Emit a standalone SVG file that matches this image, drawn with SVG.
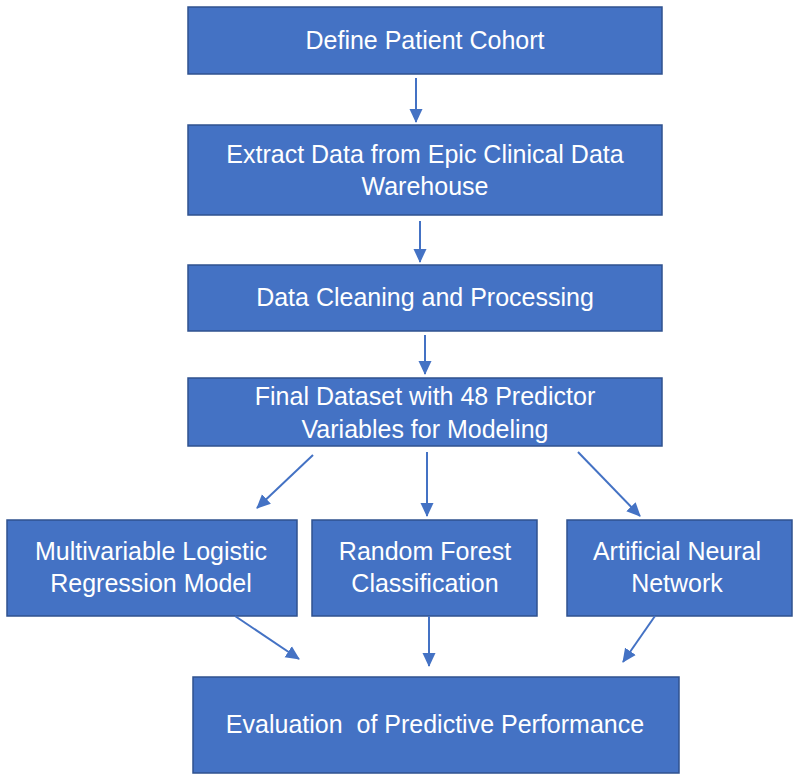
<svg xmlns="http://www.w3.org/2000/svg" width="800" height="780" viewBox="0 0 800 780">
<defs>
<marker id="ah" markerWidth="14" markerHeight="14" refX="13" refY="7" orient="auto" markerUnits="userSpaceOnUse" viewBox="0 0 14 14">
<path d="M0,0.5 L14,7 L0,13.5 Z" fill="#4472C4"/>
</marker>
<style>
.box{fill:#4472C4;stroke:#2F528F;stroke-width:1.5}
.t{fill:#ffffff;font-family:"Liberation Sans",Arial,sans-serif;font-size:25px;text-anchor:middle}
.c{stroke:#4472C4;stroke-width:2;fill:none;marker-end:url(#ah)}
</style>
</defs>
<rect width="800" height="780" fill="#ffffff"/>
<g id="n1"><rect class="box" x="188" y="7" width="474" height="67"/><text class="t" x="425" y="49">Define Patient Cohort</text></g>
<g id="n2"><rect class="box" x="188" y="125" width="474" height="90"/><text class="t" x="425" y="163">Extract Data from Epic Clinical Data</text><text class="t" x="425" y="195">Warehouse</text></g>
<g id="n3"><rect class="box" x="188" y="265" width="474" height="66"/><text class="t" x="425" y="306">Data Cleaning and Processing</text></g>
<g id="n4"><rect class="box" x="188" y="378" width="474" height="68"/><text class="t" x="425" y="405">Final Dataset with 48 Predictor</text><text class="t" x="425" y="438">Variables for Modeling</text></g>
<g id="n5"><rect class="box" x="7" y="520" width="290" height="96"/><text class="t" x="151" y="560">Multivariable Logistic</text><text class="t" x="151" y="592">Regression Model</text></g>
<g id="n6"><rect class="box" x="312" y="520" width="225" height="96"/><text class="t" x="425" y="560">Random Forest</text><text class="t" x="425" y="592">Classification</text></g>
<g id="n7"><rect class="box" x="567" y="520" width="225" height="96"/><text class="t" x="677" y="560">Artificial Neural</text><text class="t" x="677" y="592">Network</text></g>
<g id="n8"><rect class="box" x="193" y="677" width="486" height="96"/><text class="t" x="435" y="733" xml:space="preserve">Evaluation  of Predictive Performance</text></g>
<g id="connectors">
<line class="c" x1="416" y1="78" x2="416" y2="122"/>
<line class="c" x1="420" y1="221" x2="420" y2="262"/>
<line class="c" x1="425" y1="335" x2="425" y2="374"/>
<line class="c" x1="313" y1="455" x2="257" y2="508"/>
<line class="c" x1="427" y1="452" x2="427" y2="516"/>
<line class="c" x1="578" y1="452" x2="640" y2="516"/>
<line class="c" x1="235" y1="616" x2="299" y2="659"/>
<line class="c" x1="429" y1="616" x2="429" y2="666"/>
<line class="c" x1="655" y1="616" x2="623" y2="662"/>
</g>
</svg>
